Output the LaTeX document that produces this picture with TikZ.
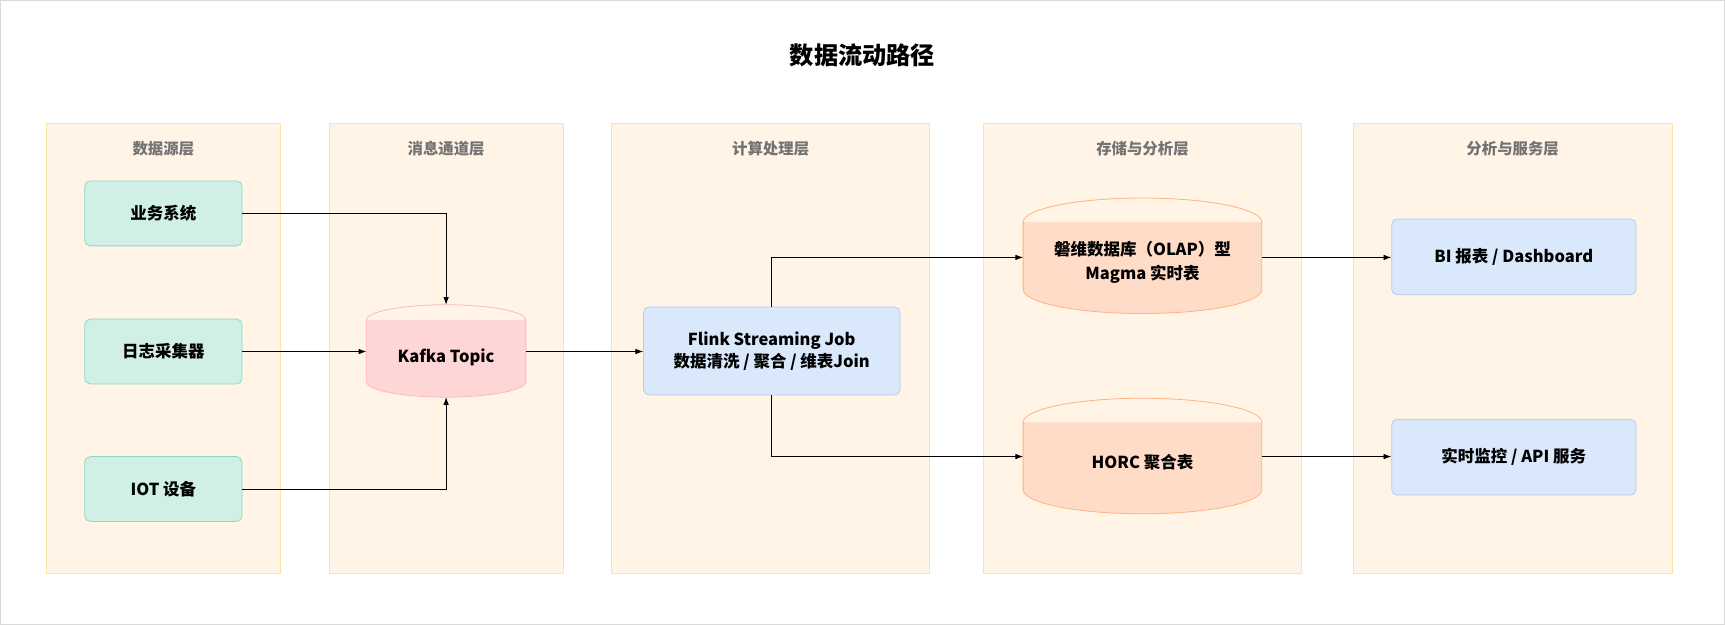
\documentclass[tikz,border=0pt]{standalone}
\usepackage{fontspec}
\setmainfont{Noto Sans CJK SC}
\usetikzlibrary{arrows.meta}
\definecolor{laneF}{HTML}{FFF4E6}\definecolor{laneD}{HTML}{FFE2A8}
\definecolor{srcF}{HTML}{D0F0E6}\definecolor{srcD}{HTML}{8ED8BE}
\definecolor{kF}{HTML}{FFD6D6}\definecolor{kD}{HTML}{FFB8B8}
\definecolor{bF}{HTML}{DAE8FC}\definecolor{bD}{HTML}{B4CBEF}
\definecolor{cF}{HTML}{FFDCC7}\definecolor{cD}{HTML}{FFB27F}
\tikzset{
 lane/.style={draw=laneD,fill=laneF,line width=0.8pt},
 lt/.style={text=gray!90!black,font=\fontsize{14}{16}\selectfont\bfseries},
 box/.style={rounded corners=5pt,line width=0.7pt,font=\fontsize{15}{20}\selectfont\bfseries,align=center},
 src/.style={box,draw=srcD,fill=srcF,minimum width=143pt,minimum height=59pt},
 blu/.style={box,draw=bD,fill=bF},
 cyl/.style={inner sep=0pt,font=\fontsize{15}{21}\selectfont\bfseries,align=center},
 arr/.style={-{Latex[length=7pt,width=5pt]},line width=0.7pt}
}
\newcommand\mycyl[4]{% node, ry, fill, draw
 \fill[#3] (#1.north west) -- (#1.south west) arc[start angle=180,end angle=360,x radius=0.5*\wd0,y radius=#2] -- (#1.north east) arc[start angle=0,end angle=180,x radius=0.5*\wd0,y radius=#2];
}
\begin{document}
\begin{tikzpicture}[x=1pt,y=-1pt]
\draw[gray!30,fill=white] (0.5,0.5) rectangle (1567.5,567.5);
\node[font=\fontsize{22}{26}\selectfont\bfseries] (title) at (784,50) {数据流动路径};
\foreach \a/\b/\t [count=\i] in {42/255/数据源层,299/512/消息通道层,556/845/计算处理层,894/1183/存储与分析层,1230/1520/分析与服务层}{
 \draw[lane] (\a,112) rectangle (\b,521);
 \node[lt] (lt\i) at ({(\a+\b)/2},135) {\t};
}
\node[src] (s1) at (148.5,194) {业务系统};
\node[src] (s2) at (148.5,319.5) {日志采集器};
\node[src] (s3) at (148.5,444.5) {IOT 设备};
\node[blu,minimum width=233pt,minimum height=80pt] (fl) at (701.5,319) {Flink Streaming Job\\数据清洗 / 聚合 / 维表Join};
\node[blu,minimum width=222pt,minimum height=69pt] (bi) at (1376,233.5) {BI 报表 / Dashboard};
\node[blu,minimum width=222pt,minimum height=69pt] (api) at (1376,415.5) {实时监控 / API 服务};
% cylinders
\foreach \n/\cx/\cy/\w/\h/\ry/\f/\d/\t in {
 kf/405.5/319/145/84/14/kF/kD/{Kafka Topic},
 c1/1038.5/232.5/217/105/22/cF/cD/{磐维数据库（OLAP）型\\Magma 实时表},
 c2/1038.5/414.5/217/105/22/cF/cD/{HORC 聚合表}}{
 \pgfmathsetmacro\rx{\w/2}
 \pgfmathsetmacro\hh{\h/2-\ry}
 \draw[line width=0.7pt,draw=\d,fill=\f] (\cx-\rx,\cy-\hh) -- (\cx-\rx,\cy+\hh) arc[start angle=180,end angle=0,x radius=\rx,y radius=\ry] -- (\cx+\rx,\cy-\hh) arc[start angle=0,end angle=-180,x radius=\rx,y radius=\ry] arc[start angle=180,end angle=0,x radius=\rx,y radius=-\ry];
 \node[cyl,minimum width=\w pt,minimum height=\h pt] (\n) at (\cx,\cy+6) {\t};
}
\coordinate (kft) at (405.5,277);
\coordinate (kfb) at (405.5,361);
\coordinate (kfl) at (333,319.5);
\coordinate (kfr) at (478,319.5);
\coordinate (c1l) at (930,234);\coordinate (c1r) at (1147,234);
\coordinate (c2l) at (930,415);\coordinate (c2r) at (1147,415);
\draw[arr] (s1.east) -| (kft);
\draw[arr] (s2.east) -- (kfl);
\draw[arr] (s3.east) -| (kfb);
\draw[arr] (kfr) -- (fl.west |- kfr);
\draw[arr] (fl.north) |- (c1l);
\draw[arr] (fl.south) |- (c2l);
\draw[arr] (c1r) -- (bi.west |- c1r);
\draw[arr] (c2r) -- (api.west |- c2r);
\useasboundingbox (0,0) rectangle (1568,568);
\end{tikzpicture}
\end{document}
